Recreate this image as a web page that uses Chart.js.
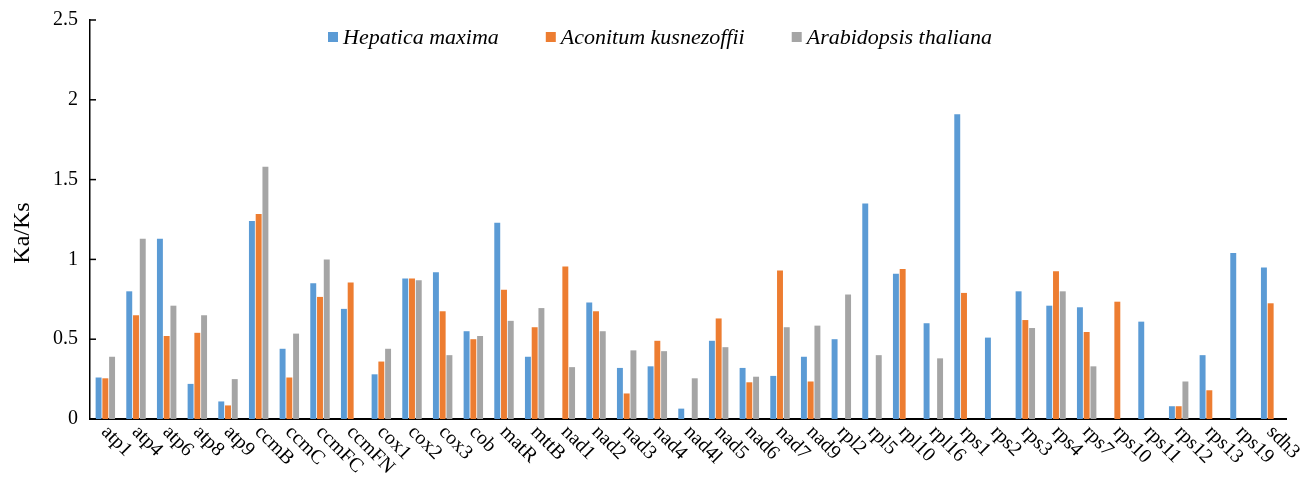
<!DOCTYPE html>
<html>
<head>
<meta charset="utf-8">
<title>Ka/Ks of mitochondrial genes</title>
<script src="https://cdn.jsdelivr.net/npm/chart.js@4.4.1/dist/chart.umd.min.js"></script>
<style>
  html, body { margin: 0; padding: 0; background: #ffffff; }
  #wrap { width: 1309px; height: 487px; position: relative; }
</style>
</head>
<body>
<div id="wrap"><canvas id="chart"></canvas></div>
<script>
// Protein-coding genes
const genes = ['atp1','atp4','atp6','atp8','atp9','ccmB','ccmC','ccmFC','ccmFN','cox1','cox2','cox3','cob','matR','mttB',
  'nad1','nad2','nad3','nad4','nad4l','nad5','nad6','nad7','nad9','rpl2','rpl5','rpl10','rpl16',
  'rps1','rps2','rps3','rps4','rps7','rps10','rps11','rps12','rps13','rps19','sdh3'];

// Ka/Ks per gene (null = no value)
const hepatica = [0.26,0.80,1.13,0.22,0.11,1.24,0.44,0.85,0.69,0.28,0.88,0.92,0.55,1.23,0.39,
  null,0.73,0.32,0.33,0.065,0.49,0.32,0.27,0.39,0.50,1.35,0.91,0.60,
  1.91,0.51,0.80,0.71,0.70,null,0.61,0.08,0.40,1.04,0.95];
const aconitum = [0.255,0.65,0.52,0.54,0.085,1.285,0.26,0.765,0.855,0.36,0.88,0.675,0.50,0.81,0.575,
  0.955,0.675,0.16,0.49,null,0.63,0.23,0.93,0.235,null,null,0.94,null,
  0.79,null,0.62,0.925,0.545,0.735,null,0.08,0.18,null,0.725];
const arabidopsis = [0.39,1.13,0.71,0.65,0.25,1.58,0.535,1.0,null,0.44,0.87,0.40,0.52,0.615,0.695,
  0.325,0.55,0.43,0.425,0.255,0.45,0.265,0.575,0.585,0.78,0.40,null,0.38,
  null,null,0.57,0.80,0.33,null,null,0.235,null,null,null];

const speciesNames = ['Hepatica maxima', 'Aconitum kusnezoffii', 'Arabidopsis thaliana'];
const speciesColors = ['#5B9BD5', '#ED7D31', '#A5A5A5'];
const yTicks = [0, 0.5, 1, 1.5, 2, 2.5];
const yTitle = 'Ka/Ks';

const SERIF = '"Liberation Serif", "Times New Roman", Times, serif';
Chart.defaults.font.family = SERIF;
Chart.defaults.font.size = 20;
Chart.defaults.color = '#000000';

// Inward y ticks, slanted gene labels, axis title and the overlaid legend
const decorations = {
  id: 'decorations',
  afterDraw(chart) {
    const { ctx, chartArea, scales: { x, y } } = chart;
    ctx.save();

    ctx.strokeStyle = '#000000';
    ctx.lineWidth = 1.5;
    yTicks.forEach(v => {
      const py = y.getPixelForValue(v);
      ctx.beginPath();
      ctx.moveTo(chartArea.left, py);
      ctx.lineTo(chartArea.left + 6, py);
      ctx.stroke();
    });

    ctx.fillStyle = '#000000';
    ctx.font = '20px ' + SERIF;
    ctx.textAlign = 'left';
    ctx.textBaseline = 'middle';
    genes.forEach((g, i) => {
      const px = x.getPixelForTick(i);
      ctx.save();
      ctx.translate(px - 1, chartArea.bottom + 10);
      ctx.rotate(Math.PI / 4);
      ctx.fillText(g, 0, 0);
      ctx.restore();
    });

    ctx.save();
    ctx.font = '24px ' + SERIF;
    ctx.textAlign = 'center';
    ctx.translate(23, 233);
    ctx.rotate(-Math.PI / 2);
    ctx.fillText(yTitle, 0, 0);
    ctx.restore();

    // legend
    ctx.font = 'italic 22px ' + SERIF;
    ctx.textAlign = 'left';
    let lx = 328;
    const ly = 37;
    chart.data.datasets.forEach(ds => {
      ctx.fillStyle = ds.backgroundColor;
      ctx.fillRect(lx, ly - 5, 10, 10);
      ctx.fillStyle = '#000000';
      ctx.fillText(ds.label, lx + 15, ly + 1);
      lx += 15 + ctx.measureText(ds.label).width + 47;
    });

    ctx.restore();
  }
};

const seriesValues = [hepatica, aconitum, arabidopsis];

new Chart(document.getElementById('chart'), {
  type: 'bar',
  data: {
    labels: genes,
    datasets: seriesValues.map((vals, k) => ({
      label: speciesNames[k],
      data: vals,
      backgroundColor: speciesColors[k],
      borderWidth: 0,
      categoryPercentage: 0.66,
      barPercentage: 0.88
    }))
  },
  options: {
    responsive: true,
    maintainAspectRatio: false,
    animation: false,
    devicePixelRatio: 1,
    layout: { padding: { left: 0, top: 20, right: 23, bottom: 68 } },
    plugins: {
      legend: { display: false },
      tooltip: { enabled: false }
    },
    scales: {
      x: {
        grid: { display: false, drawTicks: false },
        border: { display: true, color: '#000000', width: 2 },
        ticks: { display: false }
      },
      y: {
        min: 0,
        max: 2.5,
        afterFit(scale) {
          scale.width = 90;
          scale.paddingTop = 0;
          scale.paddingBottom = 0;
        },
        grid: { display: false, drawTicks: false },
        border: { display: true, color: '#000000', width: 1.5 },
        ticks: {
          stepSize: 0.5,
          padding: 12,
          font: { size: 20 },
          callback: v => String(v)
        }
      }
    }
  },
  plugins: [decorations]
});
</script>
</body>
</html>
